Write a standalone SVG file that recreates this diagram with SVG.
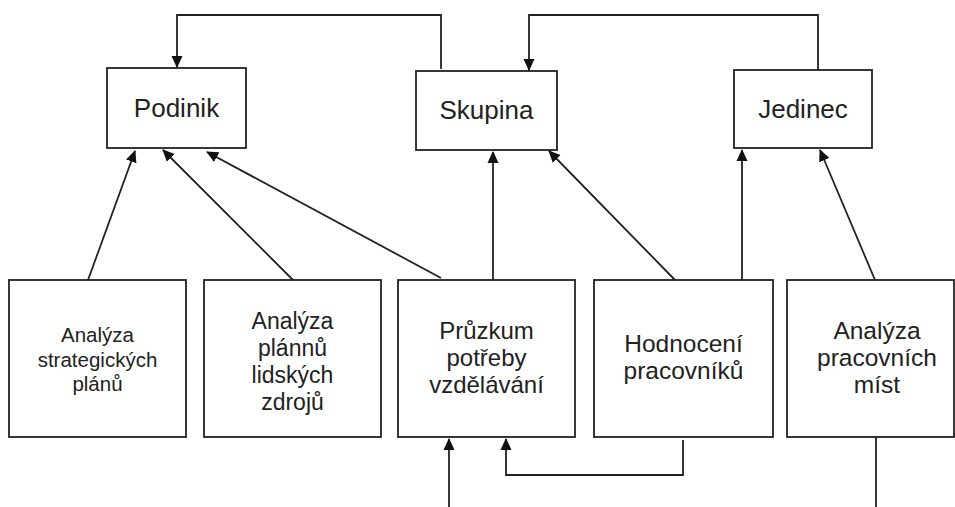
<svg xmlns="http://www.w3.org/2000/svg" width="955" height="507" viewBox="0 0 955 507">
<style>
.box{fill:#fff;stroke:#222;stroke-width:1.8}
.t{font-family:"Liberation Sans",Arial,sans-serif;fill:#222;text-anchor:middle}
.top{font-size:26px}
.c{fill:none;stroke:#222;stroke-width:1.8}
</style>
<defs>
<marker id="ah" markerUnits="userSpaceOnUse" markerWidth="12" markerHeight="12" viewBox="0 0 12 12" refX="11" refY="6" orient="auto">
<path d="M0,0.5 L12,6 L0,11.5 Z" fill="#111"/>
</marker>
</defs>
<rect width="955" height="507" fill="#fff"/>
<g id="connectors">
<polyline class="c" points="441,69 441,15 177,15 177,67" marker-end="url(#ah)"/>
<polyline class="c" points="818,70 818,15 529,15 529,70" marker-end="url(#ah)"/>
<line class="c" x1="88" y1="280" x2="135" y2="151" marker-end="url(#ah)"/>
<line class="c" x1="293" y1="280" x2="163" y2="150" marker-end="url(#ah)"/>
<line class="c" x1="441" y1="278" x2="207" y2="152" marker-end="url(#ah)"/>
<line class="c" x1="493" y1="280" x2="493" y2="152" marker-end="url(#ah)"/>
<line class="c" x1="675" y1="280" x2="549" y2="151" marker-end="url(#ah)"/>
<line class="c" x1="742" y1="280" x2="742" y2="150" marker-end="url(#ah)"/>
<line class="c" x1="875" y1="280" x2="820" y2="150" marker-end="url(#ah)"/>
<line class="c" x1="449" y1="507" x2="449" y2="439" marker-end="url(#ah)"/>
<polyline class="c" points="683,440 683,475 506,475 506,439" marker-end="url(#ah)"/>
<line class="c" x1="876" y1="437" x2="876" y2="507"/>
</g>
<g id="podinik">
<rect class="box" x="107" y="68" width="139" height="80"/>
<text class="t top" x="176.5" y="117">Podinik</text>
</g>
<g id="skupina">
<rect class="box" x="416" y="71" width="141" height="79"/>
<text class="t top" x="486.5" y="119">Skupina</text>
</g>
<g id="jedinec">
<rect class="box" x="734" y="70" width="138" height="78"/>
<text class="t top" x="803" y="118">Jedinec</text>
</g>
<g id="analyza-strategickych">
<rect class="box" x="9" y="280" width="177" height="157"/>
<text class="t" font-size="20.5" x="97.5" y="342">Analýza</text>
<text class="t" font-size="20.5" x="97.5" y="367">strategických</text>
<text class="t" font-size="20.5" x="97.5" y="391">plánů</text>
</g>
<g id="analyza-planu-lz">
<rect class="box" x="204" y="280" width="177" height="157"/>
<text class="t" font-size="23" x="292.5" y="329">Analýza</text>
<text class="t" font-size="23" x="292.5" y="356">plánnů</text>
<text class="t" font-size="23" x="292.5" y="383">lidských</text>
<text class="t" font-size="23" x="292.5" y="410">zdrojů</text>
</g>
<g id="pruzkum">
<rect class="box" x="398" y="280" width="177" height="157"/>
<text class="t" font-size="24" x="486.5" y="339">Průzkum</text>
<text class="t" font-size="24" x="486.5" y="366">potřeby</text>
<text class="t" font-size="24" x="486.5" y="393">vzdělávání</text>
</g>
<g id="hodnoceni">
<rect class="box" x="594" y="280" width="179" height="157"/>
<text class="t" font-size="24.5" x="683.5" y="352">Hodnocení</text>
<text class="t" font-size="24.5" x="683.5" y="379">pracovníků</text>
</g>
<g id="analyza-pracovnich">
<rect class="box" x="787" y="280" width="167" height="157"/>
<text class="t" font-size="24.5" x="877" y="339">Analýza</text>
<text class="t" font-size="24.5" x="877" y="366">pracovních</text>
<text class="t" font-size="24.5" x="877" y="393">míst</text>
</g>
</svg>
